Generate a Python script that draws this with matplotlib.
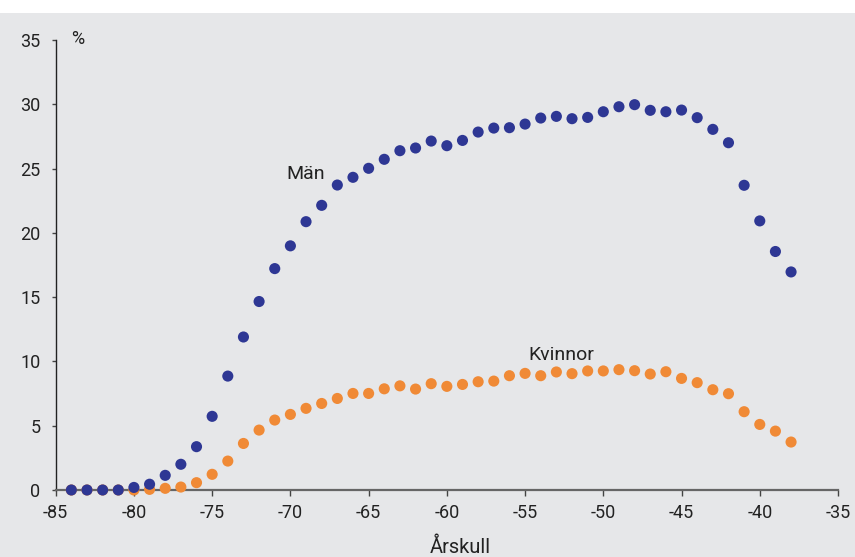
import matplotlib
matplotlib.use("Agg")
import matplotlib.pyplot as plt
from matplotlib.patches import Rectangle

years = list(range(-84, -37))
man = [0, 0, 0, 0, 0.2, 0.45, 1.14, 2.0, 3.37, 5.73, 8.86, 11.9, 14.66, 17.22, 18.99,
       20.87, 22.14, 23.72, 24.32, 25.02, 25.72, 26.39, 26.6, 27.14, 26.78, 27.19,
       27.84, 28.15, 28.18, 28.46, 28.93, 29.06, 28.88, 28.98, 29.42, 29.81, 29.97,
       29.53, 29.42, 29.55, 28.96, 28.05, 27.01, 23.7, 20.93, 18.55, 16.96]
kvinnor = [0, 0, 0, 0, 0, 0.05, 0.13, 0.23, 0.57, 1.22, 2.25, 3.62, 4.66, 5.44, 5.88,
           6.35, 6.73, 7.12, 7.51, 7.51, 7.87, 8.1, 7.85, 8.27, 8.06, 8.21, 8.42, 8.47,
           8.89, 9.07, 8.89, 9.18, 9.05, 9.26, 9.26, 9.36, 9.28, 9.02, 9.2, 8.68, 8.35,
           7.8, 7.49, 6.09, 5.1, 4.58, 3.73]
xticks = [-85, -80, -75, -70, -65, -60, -55, -50, -45, -40, -35]
yticks = [0, 5, 10, 15, 20, 25, 30, 35]

plt.rcParams['font.family'] = ['Roboto', 'DejaVu Sans']
bg = '#E6E7E9'
blue = '#2E3794'
orange = '#F08A36'
fs = 13

fig = plt.figure(figsize=(8.55, 5.57), dpi=100, facecolor='white')
fig.patches.append(Rectangle((0, 0), 1, 544 / 557, transform=fig.transFigure,
                             facecolor=bg, edgecolor='none', zorder=-10))
ax = fig.add_axes([55.7 / 855, 67 / 557, (838 - 55.7) / 855, 450 / 557])
ax.set_facecolor(bg)

ax.scatter(years, kvinnor, s=64, color=orange, edgecolors='none', zorder=3, clip_on=False)
ax.scatter(years, man, s=64, color=blue, edgecolors='none', zorder=4, clip_on=False)

ax.set_xlim(-85, -35)
ax.set_ylim(0, 35)
ax.set_xticks(xticks)
ax.set_yticks(yticks)
ax.set_xticklabels([str(v) for v in xticks])
ax.set_yticklabels([str(v) for v in yticks])

for s in ['top', 'right']:
    ax.spines[s].set_visible(False)
ax.spines['left'].set_color('#222222')
ax.spines['left'].set_linewidth(1.0)
ax.spines['bottom'].set_color('#666666')
ax.spines['bottom'].set_linewidth(1.6)

ax.tick_params(axis='x', direction='out', length=4, width=1, color='#444444',
               labelsize=fs, pad=6, labelcolor='#222222')
ax.tick_params(axis='y', direction='out', length=3, width=1, color='#444444',
               labelsize=fs, pad=8, labelcolor='#222222')

ax.text(-83.6, 35.1, '%', fontsize=fs, color='#222222', ha='center', va='center')
ax.text(-69.0, 24.6, 'Män', fontsize=fs + 1, color='#222222', ha='center', va='center')
ax.text(-52.7, 10.5, 'Kvinnor', fontsize=fs + 1, color='#222222', ha='center', va='center')
fig.text(460 / 855, 1 - 547 / 557, 'Årskull', fontsize=fs + 1.5, color='#222222',
         ha='center', va='center')

fig.savefig('out.png', dpi=100, facecolor=fig.get_facecolor())
